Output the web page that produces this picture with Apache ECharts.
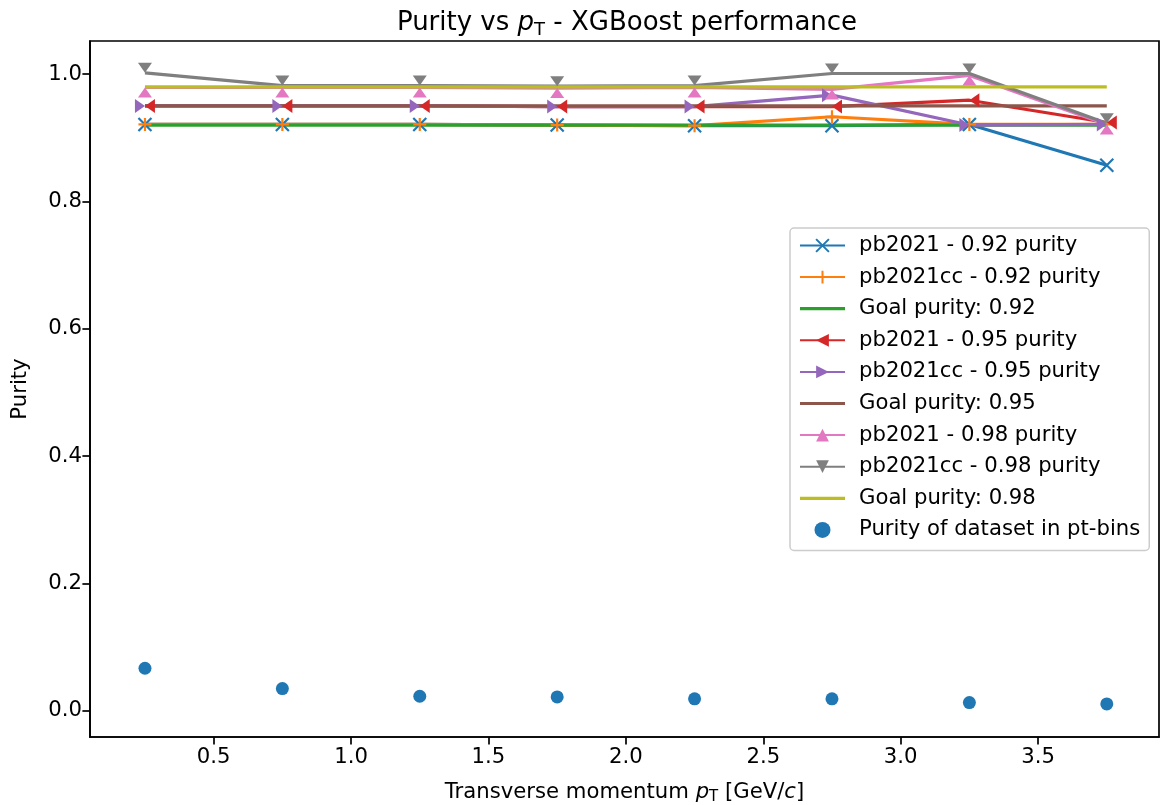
<!DOCTYPE html>
<html>
<head>
<meta charset="utf-8">
<title>Purity vs pT</title>
<script src="https://cdn.jsdelivr.net/npm/echarts@6/dist/echarts.min.js"></script>
<style>
  html, body { margin: 0; padding: 0; background: #fff; }
  #main { width: 1161px; height: 805px; }
</style>
</head>
<body>
<div id="main"></div>
<script>
// pt bin centres
var ptBins = [0.25, 0.75, 1.25, 1.75, 2.25, 2.75, 3.25, 3.75];

// purity reached by each model / target
var pb2021_092   = [0.921, 0.921, 0.921, 0.920, 0.919, 0.919, 0.921, 0.857];
var pb2021cc_092 = [0.921, 0.921, 0.921, 0.920, 0.919, 0.933, 0.921, 0.921];
var pb2021_095   = [0.950, 0.950, 0.950, 0.949, 0.949, 0.949, 0.959, 0.924];
var pb2021cc_095 = [0.950, 0.950, 0.950, 0.949, 0.949, 0.967, 0.920, 0.921];
var pb2021_098   = [0.979, 0.979, 0.979, 0.978, 0.979, 0.976, 0.998, 0.921];
var pb2021cc_098 = [1.002, 0.982, 0.982, 0.981, 0.982, 1.001, 1.001, 0.923];
var goals = [0.92, 0.95, 0.98];
var datasetPurity = [0.067, 0.035, 0.023, 0.022, 0.019, 0.019, 0.013, 0.011];

var xTicks = [0.5, 1.0, 1.5, 2.0, 2.5, 3.0, 3.5];
var yTicks = [0.0, 0.2, 0.4, 0.6, 0.8, 1.0];

function pairs(ys) {
    return ptBins.map(function (x, i) { return [x, ys[i]]; });
}
function goalLine(g) {
    return [[ptBins[0], g], [ptBins[ptBins.length - 1], g]];
}

var FONT = 'DejaVu Sans';
var FS = 21.2;
var LW = 3.2;
var MS = 13;

var X_PATH = 'path://M0,0L10,10M10,0L0,10';
var PLUS_PATH = 'path://M5,0L5,10M0,5L10,5';
var UP = 'path://M5,0L10,10L0,10Z';
var DOWN = 'path://M0,0L10,0L5,10Z';
var LEFT = 'path://M0,5L10,0L10,10Z';
var RIGHT = 'path://M0,0L10,5L0,10Z';
// plain line handle for the goal entries in the legend
var HANDLE = 'path://M0,0L45,0L45,3.2L0,3.2Z';

function modelSeries(name, ys, color, symbol, size, offset, stroked) {
    return {
        name: name,
        type: 'line',
        data: pairs(ys),
        symbol: symbol,
        symbolSize: size,
        symbolOffset: offset,
        showSymbol: true,
        lineStyle: { color: color, width: LW },
        itemStyle: stroked
            ? { color: color, borderColor: color, borderWidth: 2.2 }
            : { color: color, borderWidth: 0 },
        emphasis: { disabled: true }
    };
}
function goalSeries(name, g, color) {
    return {
        name: name,
        type: 'line',
        data: goalLine(g),
        symbol: 'none',
        lineStyle: { color: color, width: LW },
        itemStyle: { color: color },
        emphasis: { disabled: true }
    };
}

var chart = echarts.init(document.getElementById('main'));

var option = {
    animation: false,
    backgroundColor: '#fff',
    title: {
        text: 'Purity vs {it|p}{sub|T} - XGBoost performance',
        left: 622,
        textAlign: 'center',
        top: 2,
        textStyle: {
            fontFamily: FONT,
            fontSize: 26,
            fontWeight: 'normal',
            color: '#000',
            lineHeight: 32,
            rich: {
                it: { fontFamily: FONT, fontSize: 26, fontStyle: 'italic', color: '#000', lineHeight: 32 },
                sub: { fontFamily: FONT, fontSize: 18, color: '#000', lineHeight: 14, verticalAlign: 'bottom' }
            }
        }
    },
    grid: {
        left: 90, right: 2, top: 41, bottom: 68,
        show: true, borderColor: '#000', borderWidth: 1.7,
        containLabel: false,
        outerBoundsMode: 'none'
    },
    legend: {
        orient: 'vertical',
        left: 790,
        top: 228,
        padding: [7, 9, 10, 9],
        backgroundColor: 'rgba(255,255,255,0.8)',
        borderColor: '#cccccc',
        borderWidth: 1.5,
        borderRadius: 4,
        itemWidth: 45,
        itemHeight: 16,
        itemGap: 10.6,
        textStyle: { fontFamily: FONT, fontSize: FS, color: '#000', padding: [0, 0, 0, 9] },
        data: [
            'pb2021 - 0.92 purity', 'pb2021cc - 0.92 purity',
            { name: 'Goal purity: 0.92', icon: HANDLE },
            'pb2021 - 0.95 purity', 'pb2021cc - 0.95 purity',
            { name: 'Goal purity: 0.95', icon: HANDLE },
            'pb2021 - 0.98 purity', 'pb2021cc - 0.98 purity',
            { name: 'Goal purity: 0.98', icon: HANDLE },
            { name: 'Purity of dataset in pt-bins', icon: 'circle', itemStyle: { opacity: 1 } }
        ]
    },
    xAxis: {
        type: 'value',
        min: 0.05,
        max: 3.94,
        name: 'Transverse momentum {it|p}{sub|T} [GeV/{it|c}]',
        nameLocation: 'middle',
        nameGap: 42,
        nameTextStyle: {
            fontFamily: FONT, fontSize: FS, color: '#000', lineHeight: 26,
            rich: {
                it: { fontFamily: FONT, fontSize: FS, fontStyle: 'italic', color: '#000', lineHeight: 26 },
                sub: { fontFamily: FONT, fontSize: 15, color: '#000', lineHeight: 12, verticalAlign: 'bottom' }
            }
        },
        axisLine: { show: true, onZero: false, lineStyle: { color: '#000', width: 1.7 } },
        axisTick: { show: true, length: 7.6, lineStyle: { color: '#000', width: 1.7 }, customValues: xTicks },
        axisLabel: {
            fontFamily: FONT, fontSize: FS, color: '#000', margin: 10,
            customValues: xTicks,
            formatter: function (v) { return v.toFixed(1); }
        },
        splitLine: { show: false }
    },
    yAxis: {
        type: 'value',
        min: -0.041,
        max: 1.052,
        name: 'Purity',
        nameLocation: 'middle',
        nameGap: 59,
        nameRotate: 90,
        nameTextStyle: { fontFamily: FONT, fontSize: FS, color: '#000' },
        axisLine: { show: true, onZero: false, lineStyle: { color: '#000', width: 1.7 } },
        axisTick: { show: true, length: 7.6, lineStyle: { color: '#000', width: 1.7 }, customValues: yTicks },
        axisLabel: {
            fontFamily: FONT, fontSize: FS, color: '#000', margin: 8,
            customValues: yTicks,
            formatter: function (v) { return v.toFixed(1); }
        },
        splitLine: { show: false }
    },
    series: [
        modelSeries('pb2021 - 0.92 purity', pb2021_092, '#1f77b4', X_PATH, MS, [0, 0], true),
        modelSeries('pb2021cc - 0.92 purity', pb2021cc_092, '#ff7f0e', PLUS_PATH, MS, [0, 0], true),
        goalSeries('Goal purity: 0.92', goals[0], '#2ca02c'),
        modelSeries('pb2021 - 0.95 purity', pb2021_095, '#d62728', LEFT, [10, 14], [5, 0], false),
        modelSeries('pb2021cc - 0.95 purity', pb2021cc_095, '#9467bd', RIGHT, [10, 14], [-5, 0], false),
        goalSeries('Goal purity: 0.95', goals[1], '#8c564b'),
        modelSeries('pb2021 - 0.98 purity', pb2021_098, '#e377c2', UP, [14, 10], [0, 5], false),
        modelSeries('pb2021cc - 0.98 purity', pb2021cc_098, '#7f7f7f', DOWN, [14, 10], [0, -5], false),
        goalSeries('Goal purity: 0.98', goals[2], '#bcbd22'),
        {
            name: 'Purity of dataset in pt-bins',
            type: 'scatter',
            data: pairs(datasetPurity),
            symbol: 'circle',
            symbolSize: 13,
            itemStyle: { color: '#1f77b4', opacity: 1 },
            emphasis: { disabled: true }
        }
    ]
};

chart.setOption(option);
</script>
</body>
</html>
